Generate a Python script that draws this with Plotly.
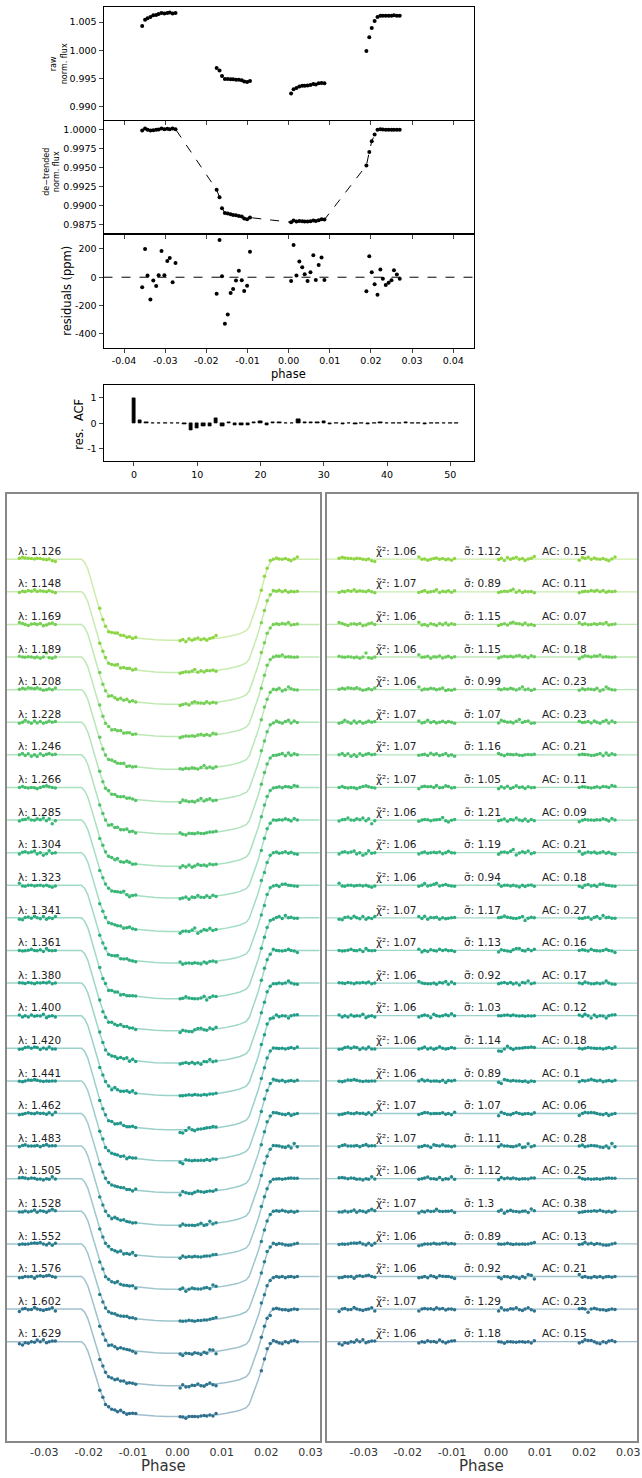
import plotly.graph_objects as go
from plotly.colors import sample_colorscale, unlabel_rgb

# ---------------- data ----------------
phase = [-0.0356, -0.0349, -0.0343, -0.0336, -0.0329, -0.0322, -0.0316, -0.0309, -0.0302, -0.0295, -0.0289, -0.0282, -0.0275,
         -0.0175, -0.0168, -0.0162, -0.0155, -0.0148, -0.0141, -0.0135, -0.0128, -0.0121, -0.0114, -0.0108, -0.0101, -0.0094,
         0.0006, 0.0012, 0.0019, 0.0026, 0.0033, 0.0039, 0.0046, 0.0053, 0.0060, 0.0066, 0.0073, 0.0080, 0.0087,
         0.0189, 0.0196, 0.0202, 0.0209, 0.0216, 0.0223, 0.0229, 0.0236, 0.0243, 0.0250, 0.0256, 0.0263, 0.0270]

raw_flux = [1.00429, 1.00542, 1.00565, 1.00589, 1.00619, 1.00625, 1.00643, 1.00661, 1.00649, 1.00661, 1.00667, 1.00649, 1.00661,
            0.99690, 0.99643, 0.99548, 0.99494, 0.99494, 0.99488, 0.99488, 0.99482, 0.99482, 0.99470, 0.99452, 0.99440, 0.99458,
            0.99238, 0.99315, 0.99333, 0.99363, 0.99375, 0.99375, 0.99381, 0.99387, 0.99405, 0.99399, 0.99417, 0.99423, 0.99417,
            0.99988, 1.00232, 1.00393, 1.00518, 1.00589, 1.00613, 1.00613, 1.00613, 1.00613, 1.00613, 1.00619, 1.00613, 1.00613]

detrended_flux = [0.99991, 1.00018, 1.00000, 0.99991, 0.99996, 1.00000, 1.00004, 1.00018, 1.00009, 1.00013, 1.00009, 1.00018, 1.00009,
                  0.99212, 0.99115, 0.98970, 0.98908, 0.98900, 0.98891, 0.98882, 0.98878, 0.98869, 0.98860, 0.98834, 0.98825, 0.98847,
                  0.98785, 0.98807, 0.98794, 0.98803, 0.98798, 0.98794, 0.98794, 0.98798, 0.98807, 0.98803, 0.98812, 0.98825, 0.98820,
                  0.99533, 0.99710, 0.99850, 0.99938, 1.00000, 1.00009, 1.00004, 1.00000, 1.00000, 1.00000, 1.00000, 1.00000, 1.00000]

residuals_ppm = [-71, 200, 12, -157, -24, -62, 14, 186, 14, 114, 136, -36, 100,
                 -117, 264, 7, -329, -264, -112, -83, -24, 45, -21, -98, -60, 181,
                 -26, 229, 12, 112, 71, 21, -26, 36, 155, -19, 86, 140, -19,
                 -100, 148, 36, -50, -124, 55, -10, -55, -40, -21, 50, 19, -10]

acf_lags = list(range(52))
acf_values = [1.0, 0.12, 0.02, 0.01, 0.01, 0.01, -0.01, 0.01, -0.05, -0.28, -0.2, -0.1, -0.13, 0.2, -0.13, 0.05,
              -0.07, -0.06, -0.07, 0.03, 0.08, -0.07, 0.02, 0.03, -0.01, 0.01, 0.15, 0.05, 0.05, 0.03, 0.08, -0.02,
              -0.01, -0.02, -0.01, -0.02, 0.01, -0.03, 0.01, 0.04, 0.01, -0.01, 0.01, 0.04, 0.01, 0.01, -0.02, -0.01,
              0.01, -0.01, 0.01, 0.01]

# tick values / labels
top_phase_ticks = [-0.04, -0.03, -0.02, -0.01, 0.0, 0.01, 0.02, 0.03, 0.04]
top_phase_labels = ["-0.04", "-0.03", "-0.02", "-0.01", "0.00", "0.01", "0.02", "0.03", "0.04"]
raw_ticks = [0.990, 0.995, 1.000, 1.005]
raw_labels = ["0.990", "0.995", "1.000", "1.005"]
detr_ticks = [0.9875, 0.9900, 0.9925, 0.9950, 0.9975, 1.0000]
detr_labels = ["0.9875", "0.9900", "0.9925", "0.9950", "0.9975", "1.0000"]
resid_ticks = [-400, -200, 0, 200]
resid_labels = ["-400", "-200", "0", "200"]
acf_yticks = [-1, 0, 1]
acf_ylabels = ["-1", "0", "1"]
acf_xticks = [0, 10, 20, 30, 40, 50]
bottom_phase_ticks = [-0.03, -0.02, -0.01, 0.0, 0.01, 0.02, 0.03]
bottom_phase_labels = ["-0.03", "-0.02", "-0.01", "0.00", "0.01", "0.02", "0.03"]

wavelengths = ["1.126", "1.148", "1.169", "1.189", "1.208", "1.228", "1.246", "1.266", "1.285", "1.304",
               "1.323", "1.341", "1.361", "1.380", "1.400", "1.420", "1.441", "1.462", "1.483", "1.505",
               "1.528", "1.552", "1.576", "1.602", "1.629"]
chi2_labels = ["1.06", "1.07", "1.06", "1.06", "1.06", "1.07", "1.07", "1.07", "1.06", "1.06",
               "1.06", "1.07", "1.07", "1.06", "1.06", "1.06", "1.06", "1.07", "1.07", "1.06",
               "1.07", "1.06", "1.06", "1.07", "1.06"]
sigma_labels = ["1.12", "0.89", "1.15", "1.15", "0.99", "1.07", "1.16", "1.05", "1.21", "1.19",
                "0.94", "1.17", "1.13", "0.92", "1.03", "1.14", "0.89", "1.07", "1.11", "1.12",
                "1.3", "0.89", "0.92", "1.29", "1.18"]
ac_labels = ["0.15", "0.11", "0.07", "0.18", "0.23", "0.23", "0.21", "0.11", "0.09", "0.21",
             "0.18", "0.27", "0.16", "0.17", "0.12", "0.18", "0.1", "0.06", "0.28", "0.25",
             "0.38", "0.13", "0.21", "0.23", "0.15"]

transit_depth = [0.01247, 0.01238, 0.01227, 0.01222, 0.01222, 0.01222, 0.01216, 0.01212, 0.01196, 0.01212,
                 0.01196, 0.01242, 0.01235, 0.01230, 0.01227, 0.01253, 0.01229, 0.01215, 0.01215, 0.01206,
                 0.01196, 0.01183, 0.01178, 0.01179, 0.01150]
row_offset = 0.005

model_phase = [-0.0384, -0.0216, -0.0209, -0.0202, -0.0196, -0.0189, -0.0182, -0.0175, -0.0168, -0.0162,
               -0.0155, -0.0148, -0.0141, -0.0130, -0.0121, -0.0110, -0.0094, -0.0075, -0.0050, -0.0025,
               0.0, 0.0025, 0.0050, 0.0075, 0.0094, 0.0110, 0.0121, 0.0130, 0.0141, 0.0148, 0.0155,
               0.0162, 0.0168, 0.0175, 0.0182, 0.0189, 0.0196, 0.0202, 0.0209, 0.0216, 0.0322]
model_shape = [0, 0, 0.04, 0.12, 0.23, 0.37, 0.51, 0.63, 0.74, 0.83,
               0.88, 0.90, 0.915, 0.932, 0.945, 0.955, 0.969, 0.981, 0.992, 0.998,
               1.0, 0.998, 0.992, 0.981, 0.969, 0.955, 0.945, 0.932, 0.915, 0.90, 0.88,
               0.83, 0.74, 0.63, 0.51, 0.37, 0.23, 0.12, 0.04, 0, 0]
model_shape_at_data = [0, 0, 0, 0, 0, 0, 0, 0, 0, 0, 0, 0, 0,
                       0.63, 0.74, 0.83, 0.88, 0.90, 0.915, 0.925, 0.935, 0.945, 0.951, 0.958, 0.963, 0.969,
                       1.0, 1.0, 0.999, 0.998, 0.996, 0.994, 0.992, 0.989, 0.985, 0.982, 0.978, 0.974, 0.971,
                       0.37, 0.23, 0.12, 0.04, 0, 0, 0, 0, 0, 0, 0, 0, 0]

spec_residuals_ppm = [
    [150, 300, 200, 150, 100, 50, 150, 100, 0, -100, 50, -250, -350, 350, 0, 50, -150, 0, 100, 200, 0, 100, -100, 50, -150, 100,
     -50, 150, -200, 250, 0, 150, 300, 0, 100, -200, 50, 150, 400, -150, 250, 100, 300, 0, 200, 50, 0, 100, -100, -250, 50, 350],
    [-100, 100, 0, 200, 100, 300, 50, 150, 100, 0, 200, 0, -150, -100, 50, 200, -50, 0, 100, 300, -100, 100, 0, 150, -50, 150,
     -100, 0, 100, 50, 200, 400, -50, 150, -100, 100, 0, 50, -150, -150, 0, 100, 50, 200, 100, 250, 0, 200, -50, 100, 0, 100],
    [300, 150, 0, -150, 50, 100, 0, 150, -200, -100, 100, 200, 0, 350, -100, 0, -200, 100, 0, -150, 150, -50, 200, -100, 100, 0,
     -150, 0, 100, -100, 200, 350, 150, 100, -50, 200, -100, 0, -150, 250, 0, 100, -50, 0, 100, 0, 150, 50, 300, -100, 0, 50],
    [100, 0, -50, 50, 0, -100, 0, -200, 0, 600, -100, -200, 0, 350, -50, 0, 100, -200, 50, 0, 150, -150, 0, 100, -100, 50,
     -150, 0, 100, 50, 100, 0, 150, 250, 0, 100, -100, 200, 50, -250, 0, 200, 100, 0, 150, 100, 300, 0, 50, 0, -50, 0],
    [50, 200, 100, 300, 200, 150, 300, 100, -100, 0, 150, 0, 250, 400, -50, 100, 50, 200, 150, 0, 100, 250, -150, 0, -100, 50,
     100, 0, 150, 50, 200, 100, -50, 150, 400, 0, 100, -150, 50, -100, 150, 0, 100, 50, 0, 200, -200, 0, 400, 150, 0, -50],
    [-150, 0, 300, 50, -150, 200, -100, 100, -150, 0, 200, 0, 100, 200, -100, 0, 300, -50, 100, -100, 0, 150, -50, 100, 0, -150,
     -100, 300, 150, 0, 50, -100, 150, 400, -50, 100, 200, -150, -100, 150, -50, 0, 100, -100, 200, 0, -150, 100, 300, -100, 200, -50],
    [0, 200, -100, 150, -200, 0, -250, 150, -100, 100, 200, 0, 100, -50, 0, 100, -100, 250, 0, 150, -100, 0, 200, -150, 0, -200,
     200, 0, -150, 100, 50, 0, 100, -50, -100, 0, 50, 0, 100, 0, 100, 50, 0, -100, -50, 50, 200, -150, 300, -50, 150, 0],
    [0, 150, 0, -100, 0, -50, -200, 0, 150, 250, 100, 0, -100, -200, 100, 200, 100, 150, 0, 300, -50, 0, 250, 150, -100, 0,
     -200, 100, -100, 200, -150, 0, 250, 0, 50, -150, 100, -50, 0, 0, 100, 50, 0, -100, 0, 100, -50, 150, 100, 0, 300, 200],
    [-150, 50, 100, 300, 0, -50, 200, 50, 300, -100, 200, -550, -100, -200, 0, 100, 50, -100, 0, 50, 100, 400, -100, -300, -50, 100,
     -100, 0, 150, -200, 100, 0, 300, 0, -100, 150, -200, 100, -100, -250, -50, 100, 0, 0, -50, 50, 0, 200, 50, -150, 250, 0],
    [-200, 50, 150, 0, 100, 250, -200, 0, -400, -150, 300, -100, 0, -200, 0, 100, -100, 0, 50, 0, 100, -150, 0, 200, 0, -50,
     -250, 50, 100, 0, 200, 500, -350, -50, 150, 0, 250, -150, 0, 200, -250, -50, 100, 0, 100, -100, 0, 150, -100, 50, -150, -250],
    [300, -100, -150, 0, 0, -100, -50, 0, -100, 0, -150, -300, -100, -150, 0, 250, -100, 0, 150, 300, -100, 0, 100, -50, -100, -150,
     200, -150, 0, 0, -100, 0, -100, -250, 0, -200, 0, 50, -150, -150, -350, 0, 100, -100, 0, -200, 150, 200, 0, -50, -100, -150],
    [-200, -300, 50, 150, -50, 250, 0, -150, 200, -200, 0, -100, 200, 200, -100, 250, -200, 50, 0, 100, -200, 0, -150, -50, 0, 50,
     0, 100, 300, 100, 0, -50, -100, 0, 200, -400, -50, 100, 0, -50, -100, 0, 100, -200, 50, 200, -100, 350, 0, 100, -50, -50],
    [0, -100, -50, 50, 200, 0, -50, 100, -150, 300, 0, -50, 0, 200, -250, 0, -150, 100, 0, -100, 200, 0, 100, -50, 0, -150,
     -250, 100, 0, -100, -150, 100, 300, 300, 0, -100, 200, -50, 200, 0, 100, 50, -100, 200, 0, -50, -100, 0, 200, 0, -100, -300],
    [50, 0, -50, 100, 0, -100, 50, 0, 100, 0, 150, -100, 0, 250, 0, -50, -100, -100, 0, -200, 100, 0, 250, -200, 150, -100,
     -100, 0, 100, -50, 100, -150, 0, -300, 100, 0, 300, -100, 0, 0, -100, 150, 0, -100, -100, 0, -100, 0, 300, 0, -150, -200],
    [100, -200, 0, -200, 100, -100, 0, -50, 200, -300, -100, 0, -200, -200, 0, 100, 0, -300, 200, 0, -100, 0, 150, 0, 300, 0,
     0, 0, 50, 100, 0, 100, 0, -50, 0, -100, 0, -50, 0, 100, -100, 200, 0, -350, 100, -150, 0, -50, -350, 0, 100, 150],
    [-150, -100, 100, 200, 0, 200, 100, -200, 50, -100, 200, -100, -100, -100, 0, 200, -100, 50, -150, 0, 250, 0, -100, -50, 100, 0,
     -400, -450, -100, 300, 0, -200, 0, 0, 50, 100, 100, 200, 100, 0, -100, 0, 100, 50, 0, -50, 0, -100, 0, 100, -50, 200],
    [-50, -150, 0, 150, 100, 200, 100, 0, -100, 0, -50, 0, 0, 0, 200, 0, 100, -50, 0, 0, -100, 100, -250, 50, 0, 100,
     -200, -400, 200, 100, 0, 50, 0, 0, -100, 0, -200, 0, -100, -150, 50, 0, 100, 250, 100, 0, 100, -150, 0, 50, -50, 100],
    [-200, -100, 0, 100, 0, -50, 100, 0, 50, -100, 100, -200, 200, -150, 0, 150, 100, -50, 0, 0, 0, 100, -100, 0, -200, 200,
     -350, 200, 0, -150, -200, 0, 150, 0, -100, -50, 0, -100, 100, -300, 0, 200, 100, 150, 100, 0, -100, -200, 0, -300, -100, 0],
    [-100, 100, 200, 0, 0, 0, 100, -100, 100, 250, 0, 50, 50, -150, -50, 100, 0, -200, 200, 100, 0, 200, 0, 0, -100, 0,
     -100, 200, 0, 0, -50, -100, 0, 200, -200, -150, 350, -100, 50, 0, 150, -100, 0, 100, 50, 0, -150, -200, 0, -300, 400, -100],
    [150, 200, 100, 0, 100, 50, -100, -50, -200, 0, -100, 300, -50, -100, 0, 100, 250, 0, 0, -100, 200, -150, 0, -50, 300, -100,
     -150, 200, 0, 100, 0, 100, 0, -100, 0, 0, -50, 100, 100, 200, 0, -100, 0, -100, -50, 0, -100, 0, 50, 100, 50, 50],
    [-100, -100, 50, -100, 0, 200, -150, 100, 0, -150, 100, 300, 100, -250, 0, -100, 100, -50, 0, 300, 0, -50, 0, 0, 100, -200,
     0, 200, -300, 0, 150, 0, -50, -100, 0, 50, -200, 350, 100, -200, -100, -50, 0, 0, 100, 0, 150, 0, -100, 0, -150, 0],
    [-100, 0, -50, 0, 100, 150, 100, 200, 0, -150, 100, -200, 100, -300, -150, 0, 0, 0, 100, 0, 0, 100, 150, 0, 50, 0,
     0, -50, 0, 100, 0, -100, 0, -50, 0, -50, 0, 100, 200, -100, 0, 250, 0, 100, -100, 50, 0, -150, -200, -150, 0, 100],
    [-200, -150, 0, -50, 0, -250, 50, 100, 0, 100, 200, 0, -100, -200, -100, 0, -200, 100, 0, -200, 100, 50, 0, 0, -100, -300,
     -100, -350, 0, -50, -200, 0, -100, -300, 0, -200, 300, 200, -400, 300, -100, 0, -150, -200, 0, -100, 0, -200, -50, 0, -100, 0],
    [-350, 0, 100, -100, -50, 250, 0, -100, -200, -50, 0, 200, -300, -300, 0, 100, 0, 50, -50, 200, 0, 100, -150, 0, 0, -100,
     -300, 200, -150, -150, 50, 0, 200, -100, -200, 0, 200, -100, -300, 50, 100, 0, -500, 0, 150, 0, -100, -100, -200, -100, 0, -50],
    [-300, -500, -150, -250, 0, -100, 250, 0, 300, -150, 0, 100, 100, -200, 0, -100, 150, 0, 50, -100, 250, 0, -200, 0, 100, 150,
     0, -50, -250, 0, 0, -50, -100, 0, 0, -100, 0, -200, 150, -200, 0, 300, 200, 200, 0, -200, -300, 0, -150, 100, 200, 0],
]

# ---------------- figure ----------------
W, H = 642, 1478
FONT = "DejaVu Sans"


def px_y(y0, y1):
    return [1 - y1 / H, 1 - y0 / H]


def px_x(x0, x1):
    return [x0 / W, x1 / W]


fig = go.Figure()

# top panels
fig.add_trace(go.Scatter(x=phase, y=raw_flux, mode="markers", marker=dict(color="black", size=4),
                         xaxis="x", yaxis="y", showlegend=False))
fig.add_trace(go.Scatter(x=phase, y=detrended_flux, mode="lines+markers", marker=dict(color="black", size=4),
                         line=dict(color="black", width=1, dash="dash"), xaxis="x2", yaxis="y2", showlegend=False))
fig.add_trace(go.Scatter(x=phase, y=residuals_ppm, mode="markers", marker=dict(color="black", size=4),
                         xaxis="x3", yaxis="y3", showlegend=False))
fig.add_trace(go.Bar(x=acf_lags, y=acf_values, width=0.55, marker=dict(color="black", line=dict(color="black", width=0.8)),
                     xaxis="x4", yaxis="y4", showlegend=False))

# spectroscopic panels
color_pos = [0.83 - 0.47 * i / (len(wavelengths) - 1) for i in range(len(wavelengths))]
row_colors = sample_colorscale("Viridis", color_pos)

shapes = [dict(type="line", xref="x3 domain", yref="y3", x0=0, x1=1, y0=0, y1=0,
               line=dict(color="black", width=1, dash="dash"))]
annotations = []

for i, wl in enumerate(wavelengths):
    col = row_colors[i]
    r, g, b = unlabel_rgb(col)
    faint = f"rgba({int(r)},{int(g)},{int(b)},0.45)"
    base = 1.0 - i * row_offset
    d = transit_depth[i]
    model_y = [base - d * s for s in model_shape]
    data_y = [base - d * s + res * 1e-6 for s, res in zip(model_shape_at_data, spec_residuals_ppm[i])]
    resid_y = [base + res * 1e-6 for res in spec_residuals_ppm[i]]

    fig.add_trace(go.Scatter(x=model_phase, y=model_y, mode="lines", line=dict(color=faint, width=1.5),
                             xaxis="x5", yaxis="y5", showlegend=False, hoverinfo="skip"))
    fig.add_trace(go.Scatter(x=phase, y=data_y, mode="markers", marker=dict(color=col, size=3.5),
                             xaxis="x5", yaxis="y5", showlegend=False))
    fig.add_trace(go.Scatter(x=phase, y=resid_y, mode="markers", marker=dict(color=col, size=3.5),
                             xaxis="x6", yaxis="y6", showlegend=False))
    shapes.append(dict(type="line", xref="x6 domain", yref="y6", x0=0, x1=1, y0=base, y1=base,
                       line=dict(color=faint, width=1.3), layer="below"))

    ty = base + 0.00128
    tf = dict(family=FONT, size=10.5, color="#222")
    annotations.append(dict(x=-0.0363, y=ty, xref="x5", yref="y5", text=f"λ: {wl}", showarrow=False,
                            xanchor="left", yanchor="middle", font=tf))
    annotations.append(dict(x=-0.0276, y=ty, xref="x6", yref="y6", text=f"χ\u0303\u00b2: {chi2_labels[i]}",
                            showarrow=False, xanchor="left", yanchor="middle", font=tf))
    annotations.append(dict(x=-0.0077, y=ty, xref="x6", yref="y6", text=f"σ\u0303: {sigma_labels[i]}",
                            showarrow=False, xanchor="left", yanchor="middle", font=tf))
    annotations.append(dict(x=0.0100, y=ty, xref="x6", yref="y6", text=f"AC: {ac_labels[i]}",
                            showarrow=False, xanchor="left", yanchor="middle", font=tf))

# "Phase" titles placed as annotations under each bottom panel
for xr in ["x5 domain", "x6 domain"]:
    annotations.append(dict(x=0.5, y=1 - 1466 / H, xref=xr, yref="paper", text="Phase", showarrow=False,
                            xanchor="center", yanchor="middle", font=dict(family=FONT, size=15, color="#333")))

# axis titles of the top panels (placed as annotations for exact positioning)
y_titles = [("raw<br>norm. flux", 59, 63.5, 8),
            ("de\u2212trended<br>norm. flux", 51, 172, 8),
            ("residuals (ppm)", 67, 291, 11.5),
            ("res.  ACF", 79, 424, 11.5)]
for txt, xp, yp, fs in y_titles:
    annotations.append(dict(x=xp / W, y=1 - yp / H, xref="paper", yref="paper", text=txt, showarrow=False,
                            textangle=-90, xanchor="center", yanchor="middle",
                            font=dict(family=FONT, size=fs, color="black")))
annotations.append(dict(x=290 / W, y=1 - 374 / H, xref="paper", yref="paper", text="phase", showarrow=False,
                        xanchor="center", yanchor="middle", font=dict(family=FONT, size=11.5, color="black")))

top_x = px_x(104, 476)
tick_font = dict(family=FONT, size=9.5, color="black")
common_top_x = dict(domain=top_x, range=[-0.045, 0.045], tickvals=top_phase_ticks, ticktext=top_phase_labels,
                    ticks="outside", ticklen=4,
                    showline=True, mirror=True, linecolor="black", linewidth=1, showgrid=False, zeroline=False,
                    tickfont=tick_font)
common_top_y = dict(ticks="outside", ticklen=4, showline=True, mirror=True, linecolor="black", linewidth=1,
                    showgrid=False, zeroline=False, tickfont=tick_font)

bottom_x = dict(range=[-0.0384, 0.032], tickvals=bottom_phase_ticks, ticktext=bottom_phase_labels, ticks="",
                showline=True, mirror=True,
                linecolor="#888888", linewidth=1.5, showgrid=False, zeroline=False,
                tickfont=dict(family=FONT, size=11, color="#333"))
bottom_y = dict(range=[0.86482, 1.0100], showticklabels=False, ticks="", showline=True, mirror=True,
                linecolor="#888888", linewidth=1.5, showgrid=False, zeroline=False)

fig.update_layout(
    width=W, height=H, margin=dict(l=0, r=0, t=0, b=0),
    paper_bgcolor="white", plot_bgcolor="white",
    font=dict(family=FONT, color="black"),
    xaxis=dict(common_top_x, anchor="y", showticklabels=False),
    yaxis=dict(common_top_y, domain=px_y(7.3, 120), anchor="x", range=[0.9877, 1.0076],
               tickvals=raw_ticks, ticktext=raw_labels),
    xaxis2=dict(common_top_x, anchor="y2", showticklabels=False),
    yaxis2=dict(common_top_y, domain=px_y(120.5, 234), anchor="x2", range=[0.98631, 1.00123],
                tickvals=detr_ticks, ticktext=detr_labels),
    xaxis3=dict(common_top_x, anchor="y3", showticklabels=True),
    yaxis3=dict(common_top_y, domain=px_y(234, 347.7), anchor="x3", range=[-499, 306],
                tickvals=resid_ticks, ticktext=resid_labels),
    xaxis4=dict(domain=top_x, anchor="y4", range=[-4.8, 53.7], tickvals=acf_xticks, ticks="outside", ticklen=4,
                showline=True, mirror=True, linecolor="black", linewidth=1, showgrid=False, zeroline=False,
                tickfont=tick_font),
    yaxis4=dict(common_top_y, domain=px_y(385.3, 461.3), anchor="x4", range=[-1.5, 1.5],
                tickvals=acf_yticks, ticktext=acf_ylabels),
    xaxis5=dict(bottom_x, domain=px_x(7, 321), anchor="y5"),
    yaxis5=dict(bottom_y, domain=px_y(494, 1440.7), anchor="x5"),
    xaxis6=dict(bottom_x, domain=px_x(328.3, 640), anchor="y6"),
    yaxis6=dict(bottom_y, domain=px_y(494, 1440.7), anchor="x6"),
    shapes=shapes,
    annotations=annotations,
    bargap=0,
)

fig.write_html("out.html", config={"displayModeBar": False},
               post_script="document.body.style.margin='0';document.body.style.overflow='hidden';")
